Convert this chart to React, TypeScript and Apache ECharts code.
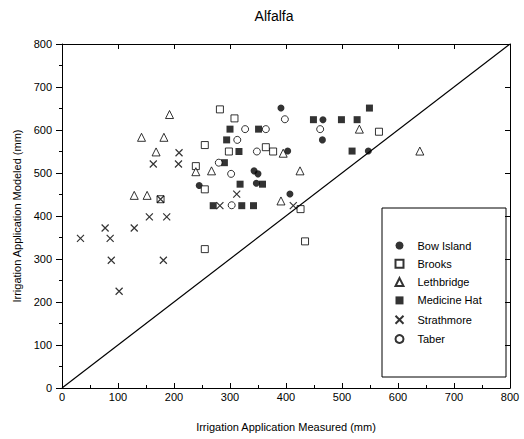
import React, { useEffect, useRef } from "react";
import * as echarts from "echarts";

const seriesNames = ["Bow Island", "Brooks", "Lethbridge", "Medicine Hat", "Strathmore", "Taber"];

const bowIsland = [[391,651],[466,624],[465,577],[403,551],[343,505],[350,498],[347,476],[407,451],[245,471],[547,551]];
const brooks = [[282,648],[308,627],[255,565],[298,550],[364,560],[377,550],[239,516],[255,462],[176,439],[255,323],[426,416],[434,341],[566,596]];
const lethbridge = [[192,636],[142,583],[182,583],[168,549],[239,503],[267,505],[129,448],[152,448],[395,546],[425,505],[391,435],[531,602],[639,551]];
const medicineHat = [[300,602],[351,602],[294,577],[316,550],[290,524],[318,474],[358,474],[270,424],[321,424],[342,424],[449,624],[499,624],[527,624],[549,651],[518,551]];
const strathmore = [[209,547],[163,521],[208,521],[176,439],[156,398],[187,398],[33,348],[77,372],[86,348],[129,372],[88,297],[181,297],[102,225],[312,451],[282,424],[413,424]];
const taber = [[398,625],[327,602],[364,602],[461,602],[313,577],[348,550],[280,524],[302,498],[303,425]];
const oneToOne = [[0,0],[800,800]];

const FONT = "Liberation Sans";

export default function App() {
  const ref = useRef<HTMLDivElement>(null);
  useEffect(() => {
    const chart = echarts.init(ref.current!, null, { renderer: "svg" });
    const axisCommon = {
      type: "value",
      min: 0,
      max: 800,
      interval: 100,
      splitLine: { show: false },
      axisLine: { show: true, onZero: false, lineStyle: { color: "#000", width: 1 } },
    };
    const filled = { color: "#000" };
    const open = { color: "#fff", borderColor: "#000", borderWidth: 1 };
    chart.setOption({
      animation: false,
      backgroundColor: "#fff",
      grid: { left: 62, right: 14, top: 44, bottom: 51 },
      graphic: [
        {
          type: "text",
          x: 274,
          y: 16,
          style: { text: "Alfalfa", fontSize: 14, fontFamily: FONT, fill: "#000", textAlign: "center", textVerticalAlign: "middle" },
        },
        {
          type: "rect",
          shape: { x: 382, y: 208, width: 124, height: 169 },
          style: { fill: "none", stroke: "#000", lineWidth: 1 },
          z: 10,
        },
      ],
      legend: {
        data: seriesNames,
        orient: "vertical",
        left: 393,
        top: 240,
        itemWidth: 8,
        itemHeight: 8,
        itemGap: 7.3,
        textStyle: { fontSize: 11, fontFamily: FONT, color: "#000", padding: [0, 0, 0, 9] },
        padding: 0,
      },
      xAxis: [
        {
          ...axisCommon,
          position: "bottom",
          name: "Irrigation Application Measured (mm)",
          nameLocation: "middle",
          nameGap: 33,
          nameTextStyle: { fontSize: 11, fontFamily: FONT, color: "#000" },
          axisTick: { show: true, inside: true, length: 5, lineStyle: { color: "#000" } },
          minorTick: { show: true, splitNumber: 2, length: 3, lineStyle: { color: "#000" } },
          axisLabel: { fontSize: 11, fontFamily: FONT, color: "#000", margin: 3 },
        },
        {
          ...axisCommon,
          position: "top",
          axisTick: { show: true, inside: true, length: 5, lineStyle: { color: "#000" } },
          axisLabel: { show: false },
        },
      ],
      yAxis: [
        {
          ...axisCommon,
          position: "left",
          name: "Irrigation Application Modeled (mm)",
          nameLocation: "middle",
          nameGap: 40,
          nameTextStyle: { fontSize: 11, fontFamily: FONT, color: "#000" },
          axisTick: { show: true, inside: false, length: 6, lineStyle: { color: "#000" } },
          minorTick: { show: true, splitNumber: 2, length: 3, lineStyle: { color: "#000" } },
          axisLabel: { fontSize: 11, fontFamily: FONT, color: "#000", margin: 10 },
        },
        {
          ...axisCommon,
          position: "right",
          axisTick: { show: true, inside: true, length: 5, lineStyle: { color: "#000" } },
          axisLabel: { show: false },
        },
      ],
      series: [
        {
          type: "line",
          data: oneToOne,
          symbol: "none",
          lineStyle: { color: "#000", width: 1.2 },
          silent: true,
        },
        { name: "Bow Island", type: "scatter", data: bowIsland, symbol: "circle", symbolSize: 7, itemStyle: filled },
        { name: "Brooks", type: "scatter", data: brooks, symbol: "rect", symbolSize: 7, itemStyle: open },
        { name: "Lethbridge", type: "scatter", data: lethbridge, symbol: "triangle", symbolSize: 8, itemStyle: open },
        { name: "Medicine Hat", type: "scatter", data: medicineHat, symbol: "rect", symbolSize: 7, itemStyle: filled },
        {
          name: "Strathmore",
          type: "scatter",
          data: strathmore,
          symbol: "path://M0,0L10,10M10,0L0,10",
          symbolSize: 7,
          itemStyle: { color: "none", borderColor: "#000", borderWidth: 1.2 },
        },
        { name: "Taber", type: "scatter", data: taber, symbol: "circle", symbolSize: 7, itemStyle: open },
      ],
    });
    return () => chart.dispose();
  }, []);
  return <div ref={ref} style={{ position: "fixed", left: 0, top: 0, width: 524, height: 439 }} />;
}
